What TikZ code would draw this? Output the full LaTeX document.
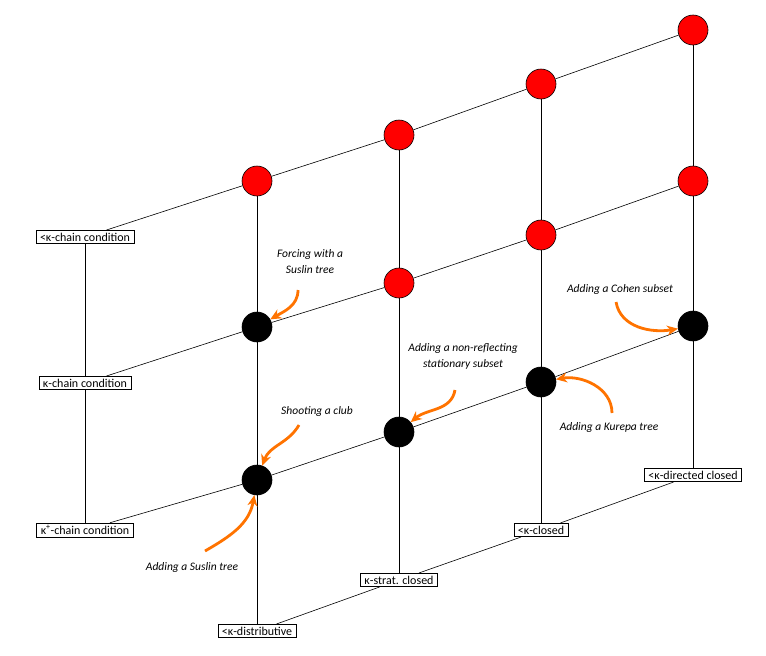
\documentclass[tikz,border=0pt]{standalone}
\usepackage{fontspec}
\setmainfont{Carlito}
\usetikzlibrary{arrows.meta}

\tikzset{
    red dot/.style={circle, draw, fill=red, minimum size=30pt, inner sep=0pt},
    black dot/.style={circle, draw, fill=black, minimum size=30pt, inner sep=0pt},
    prop/.style={draw, fill=white, inner xsep=4pt, inner ysep=2.5pt, font=\fontsize{12}{13}\selectfont},
    note/.style={font=\fontsize{11.5}{16}\selectfont\itshape, align=center},
    forcing/.style={-{Stealth[length=11pt,width=10pt]}, draw=orange!90!red, line width=2.8pt}
}

\begin{document}
\begin{tikzpicture}[x=1pt, y=-1pt, semithick]
    \useasboundingbox (0,0) rectangle (766,656);

    % property labels
    \node[prop] (lcc)  at (85,237)  {<κ-chain condition};
    \node[prop] (kcc)  at (85,383)  {κ-chain condition};
    \node[prop] (kpcc) at (85,530)  {κ\textsuperscript{+}-chain condition};
    \node[prop] (dist) at (257,631) {<κ-distributive};
    \node[prop] (strat) at (399,580) {κ-strat. closed};
    \node[prop] (clos) at (541,530) {<κ-closed};
    \node[prop] (dclos) at (693,475) {<κ-directed closed};

    % the grid points
    \node[red dot]   (a1) at (257,181) {};
    \node[red dot]   (a2) at (399,135) {};
    \node[red dot]   (a3) at (541,84)  {};
    \node[red dot]   (a4) at (693,30)  {};
    \node[black dot] (b1) at (257,327) {};
    \node[red dot]   (b2) at (399,283) {};
    \node[red dot]   (b3) at (541,235) {};
    \node[red dot]   (b4) at (693,181) {};
    \node[black dot] (c1) at (257,480) {};
    \node[black dot] (c2) at (399,432) {};
    \node[black dot] (c3) at (541,382) {};
    \node[black dot] (c4) at (693,326) {};

    % rows
    \draw (lcc) -- (a1) -- (a2) -- (a3) -- (a4);
    \draw (kcc) -- (b1) -- (b2) -- (b3) -- (b4);
    \draw (kpcc) -- (c1) -- (c2) -- (c3) -- (c4);
    \draw (dist) -- (strat) -- (clos) -- (dclos);
    % columns
    \draw (lcc) -- (kcc) -- (kpcc);
    \draw (a1) -- (b1) -- (c1) -- (dist);
    \draw (a2) -- (b2) -- (c2) -- (strat);
    \draw (a3) -- (b3) -- (c3) -- (clos);
    \draw (a4) -- (b4) -- (c4) -- (dclos);

    % forcings
    \node[note] (suslinf) at (310,262) {Forcing with a\\Suslin tree};
    \node[note] (club)    at (317,411) {Shooting a club};
    \node[note] (suslin)  at (192,567) {Adding a Suslin tree};
    \node[note] (nonref)  at (463,356) {Adding a non-reflecting\\stationary subset};
    \node[note] (kurepa)  at (609,427) {Adding a Kurepa tree};
    \node[note] (cohen)   at (620,289) {Adding a Cohen subset};

    \draw[forcing] (298,290) to[out=-90, in=30] (b1);
    \draw[forcing] (299,425) to[out=-120, in=70] (c1);
    \draw[forcing] (205,551) to[out=30, in=-100] (c1);
    \draw[forcing] (455,390) to[out=-100, in=40] (c2);
    \draw[forcing] (612,413) to[out=90, in=10] (c3);
    \draw[forcing] (616,302) to[out=-80, in=190] (c4);
\end{tikzpicture}
\end{document}
